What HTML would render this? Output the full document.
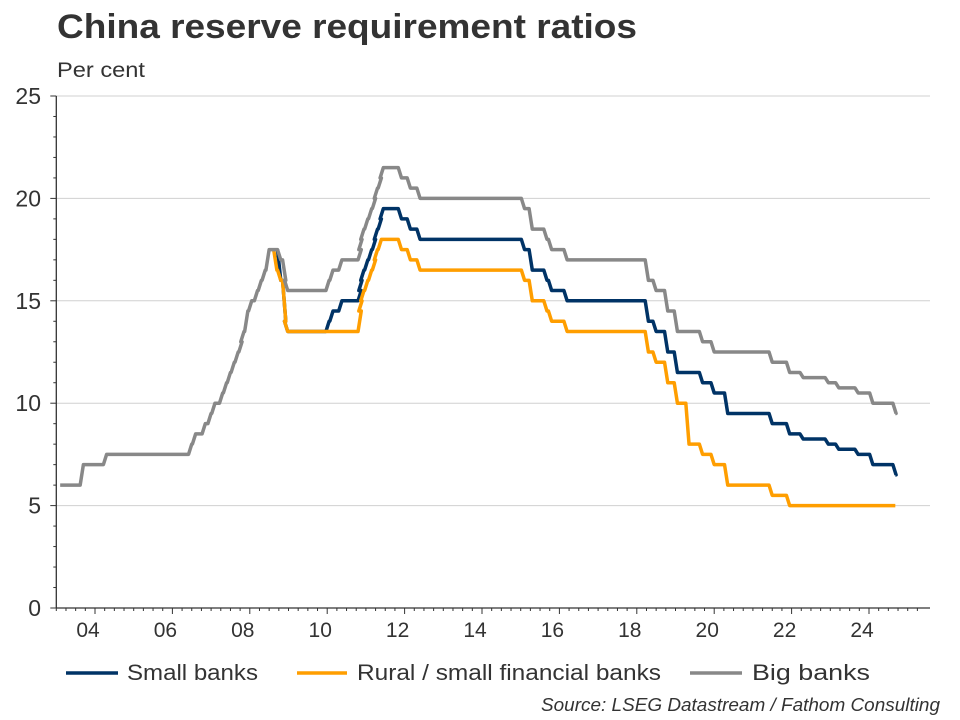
<!DOCTYPE html>
<html><head><meta charset="utf-8"><style>
body{margin:0;background:#fff;font-family:"Liberation Sans",Arial,sans-serif;}
#w{position:relative;width:960px;height:720px;overflow:hidden;}
</style></head><body>
<div id="w">
<svg id="c" width="960" height="720">
<text x="57" y="38" font-size="34" font-weight="bold" fill="#333" textLength="580" lengthAdjust="spacingAndGlyphs">China reserve requirement ratios</text>
<text x="57" y="77" font-size="21" fill="#333" textLength="88" lengthAdjust="spacingAndGlyphs">Per cent</text>
<g id="grid"></g><g id="axes"></g><g id="series"></g>
<g>
<line x1="66" y1="673" x2="118" y2="673" stroke="#003366" stroke-width="3.5"/>
<text x="127" y="680" font-size="22" fill="#333" textLength="131" lengthAdjust="spacingAndGlyphs">Small banks</text>
<line x1="297" y1="673" x2="347" y2="673" stroke="#ff9e00" stroke-width="3.5"/>
<text x="357" y="680" font-size="22" fill="#333" textLength="304" lengthAdjust="spacingAndGlyphs">Rural / small financial banks</text>
<line x1="690" y1="673" x2="742" y2="673" stroke="#888" stroke-width="3.5"/>
<text x="752" y="680" font-size="22" fill="#333" textLength="118" lengthAdjust="spacingAndGlyphs">Big banks</text>
</g>
<text x="940" y="711" font-size="18" font-style="italic" fill="#333" text-anchor="end" textLength="399" lengthAdjust="spacingAndGlyphs">Source: LSEG Datastream / Fathom Consulting</text>
</svg></div>
<script>
const yTicks=[0,5,10,15,20,25];
const xTickYears=[2004,2006,2008,2010,2012,2014,2016,2018,2020,2022,2024];
const xTickLabels=["04","06","08","10","12","14","16","18","20","22","24"];
const bigDates=[2003.1,2003.7,2004.3,2006.5,2006.6,2006.85,2007.0,2007.1,2007.3,2007.4,2007.5,2007.6,2007.7,2007.8,2007.85,2007.95,2008.05,2008.2,2008.3,2008.4,2008.5,2008.8,2008.93,2008.98,2010.05,2010.15,2010.38,2010.88,2010.9,2010.95,2011.05,2011.15,2011.25,2011.3,2011.4,2011.45,2011.92,2012.15,2012.4,2015.1,2015.3,2015.68,2015.8,2016.2,2018.3,2018.5,2018.8,2019.05,2019.7,2020.0,2021.5,2021.95,2022.3,2022.95,2023.22,2023.72,2024.1,2024.7];
const bigVals=[6,7,7.5,8,8.5,9,9.5,10,10.5,11,11.5,12,12.5,13,13.5,14.5,15,15.5,16,16.5,17.5,17,16,15.5,16,16.5,17,17.5,18,18.5,19,19.5,20,20.5,21,21.5,21,20.5,20,19.5,18.5,18,17.5,17,16,15.5,14.5,13.5,13,12.5,12,11.5,11.25,11,10.75,10.5,10,9.5];
const smallDates=[2008.8,2008.93,2008.98,2010.05,2010.15,2010.38,2010.88,2010.9,2010.95,2011.05,2011.15,2011.25,2011.3,2011.4,2011.45,2011.92,2012.15,2012.4,2015.1,2015.3,2015.68,2015.8,2016.2,2018.3,2018.5,2018.8,2019.05,2019.7,2020.0,2020.35,2021.5,2021.95,2022.3,2022.95,2023.22,2023.72,2024.1,2024.7];
const smallVals=[16,14,13.5,14,14.5,15,15.5,16,16.5,17,17.5,18,18.5,19,19.5,19,18.5,18,17.5,16.5,16,15.5,15,14,13.5,12.5,11.5,11,10.5,9.5,9,8.5,8.25,8,7.75,7.5,7,6.5];
const ruralDates=[2008.7,2008.8,2008.93,2008.98,2010.88,2010.9,2010.95,2011.05,2011.15,2011.25,2011.3,2011.4,2011.92,2012.15,2012.4,2015.1,2015.3,2015.68,2015.8,2016.2,2018.3,2018.5,2018.8,2019.05,2019.35,2019.7,2020.0,2020.35,2021.5,2021.95];
const ruralVals=[16.5,16,14,13.5,14.5,15,15.5,16,16.5,17,17.5,18,17.5,17,16.5,16,15,14.5,14,13.5,12.5,12,11,10,8,7.5,7,6,5.5,5];
const END=2024.68;
const X0=56.3,PX=38.7,Y0=608,PY=20.48;
const x=t=>X0+(t-2003)*PX, y=v=>Y0-v*PY;
const NS="http://www.w3.org/2000/svg";
function mk(tag,at,parent){const e=document.createElementNS(NS,tag);for(const k in at)e.setAttribute(k,at[k]);parent.appendChild(e);return e;}
const grid=document.getElementById('grid'),axes=document.getElementById('axes'),ser=document.getElementById('series');
yTicks.forEach(v=>{
 if(v>0){const g=mk('line',{x1:X0,x2:930,y1:y(v),y2:y(v),stroke:'#d0d0d0','stroke-width':1},grid);
 
 }
 const t=mk('text',{x:41,y:y(v)+8,'font-size':23,fill:'#333','text-anchor':'end'},axes);t.textContent=v;
 
 
 mk('line',{x1:X0-6,x2:X0,y1:y(v),y2:y(v),stroke:'#333','stroke-width':1},axes);
});
for(let v=1;v<25;v++){if(v%5)mk('line',{x1:X0-3,x2:X0,y1:y(v),y2:y(v),stroke:'#333','stroke-width':1},axes);}
const ya=mk('line',{x1:X0,x2:X0,y1:y(25),y2:Y0,stroke:'#333','stroke-width':1.3},axes);


const xa=mk('line',{x1:X0,x2:930,y1:Y0,y2:Y0,stroke:'#333','stroke-width':1.3},axes);


for(let q=2003;q<=2025.25;q+=0.25){const maj=Math.abs(q-Math.round(q))<1e-6&&Math.round(q)%2===0;
 mk('line',{x1:x(q),x2:x(q),y1:Y0,y2:Y0+(maj?6:3),stroke:'#333','stroke-width':1},axes);}
xTickYears.forEach((yr,i)=>{const t=mk('text',{x:x(yr)-7,y:Y0+29,'font-size':21,fill:'#333','text-anchor':'middle'},axes);t.textContent=xTickLabels[i];
 
 });
function path(dates,vals,start){
 let d='',prev=start;
 if(prev==null){d='M'+x(dates[0])+','+y(vals[0]);prev=vals[0];}
 for(let i=(start==null?1:0);i<dates.length;i++){
  if(d===''){d='M'+x(dates[i]-1/12)+','+y(prev);}
  else d+=' L'+x(dates[i]-1/12)+','+y(prev);
  d+=' L'+x(dates[i])+','+y(vals[i]);prev=vals[i];}
 d+=' L'+x(END)+','+y(prev);return d;}
const pb=mk('path',{d:path(bigDates,bigVals),fill:'none',stroke:'#888','stroke-width':3.5,'stroke-linejoin':'round'},ser);


const ps=mk('path',{d:path(smallDates,smallVals,17.5),fill:'none',stroke:'#003366','stroke-width':3.5,'stroke-linejoin':'round'},ser);


const pr=mk('path',{d:path(ruralDates,ruralVals,17.5),fill:'none',stroke:'#ff9e00','stroke-width':3.5,'stroke-linejoin':'round'},ser);


ser.appendChild(pb);
</script>
</body></html>
